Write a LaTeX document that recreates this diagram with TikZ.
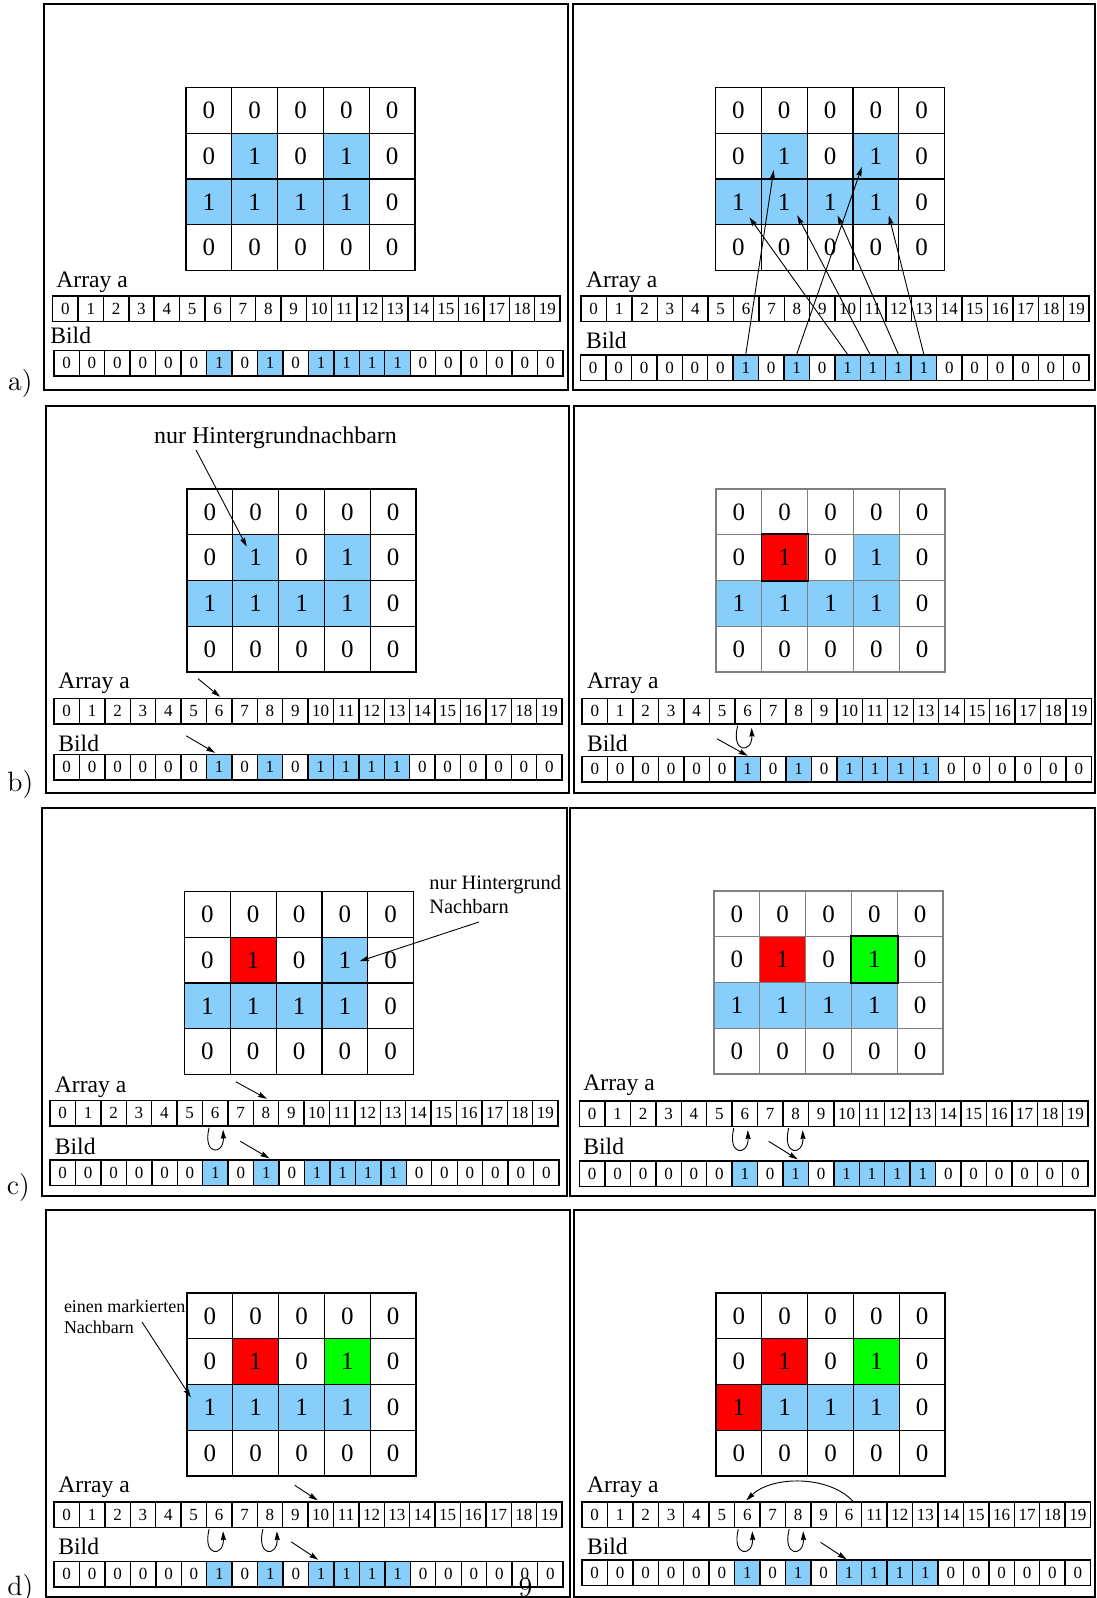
\documentclass[tikz,border=0pt]{standalone}
\usepackage{fontspec}
\newfontfamily\tms{Liberation Serif}
\usetikzlibrary{arrows.meta}
\definecolor{skyb}{RGB}{135,206,250}
\definecolor{grn}{RGB}{0,255,0}
\definecolor{rd}{RGB}{255,0,0}
\def\gvals{{0,0,0,0,0,0,1,0,1,0,1,1,1,1,0,0,0,0,0,0}}
\def\Lplain{white,white,white,white,white,white,skyb,white,skyb,white,skyb,skyb,skyb,skyb,white,white,white,white,white,white}
\def\Lred{white,white,white,white,white,white,rd,white,skyb,white,skyb,skyb,skyb,skyb,white,white,white,white,white,white}
\def\Lrg{white,white,white,white,white,white,rd,white,grn,white,skyb,skyb,skyb,skyb,white,white,white,white,white,white}
\def\Lrgr{white,white,white,white,white,white,rd,white,grn,white,rd,skyb,skyb,skyb,white,white,white,white,white,white}
\def\Lidx{0,1,2,3,4,5,6,7,8,9,10,11,12,13,14,15,16,17,18,19}
\def\Lidxd{0,1,2,3,4,5,6,7,8,9,6,11,12,13,14,15,16,17,18,19}
\newcommand\mkgrid[5]{%
  \foreach \c [count=\i from 0] in #5 {%
    \pgfmathtruncatemacro\rr{int(\i/5)}%
    \pgfmathtruncatemacro\kk{mod(\i,5)}%
    \pgfmathtruncatemacro\vv{\gvals[\i]}%
    \node[gcell,draw=#4,fill=\c] (#1-\rr-\kk) at ({#2+(\kk+0.5)*45.8},{#3+(\rr+0.5)*45.75}) {\vv};
  }}
\newcommand\idxrow[5]{%
  \foreach \v [count=\i from 0] in #5 {%
    \node[acell,minimum width={#4*0.5pt}] (#1\i) at ({#2+(\i+0.5)*#4},{#3+12.75}) {\v};
  }}
\newcommand\bildrow[4]{%
  \foreach \v [count=\i from 0] in {0,0,0,0,0,0,1,0,1,0,1,1,1,1,0,0,0,0,0,0} {%
    \ifnum\v=1 \def\ff{skyb}\else\def\ff{white}\fi
    \node[acell,fill=\ff,minimum width={#4*0.5pt}] (#1\i) at ({#2+(\i+0.5)*#4},{#3+12.75}) {\v};
  }}
\newcommand\lp[2]{%
  \draw[arr] ([shift={(#2-8,1)}]#1.south) .. controls ([shift={(#2-15,29)}]#1.south) and ([shift={(#2+7,29)}]#1.south) .. ([shift={(#2+6,3)}]#1.south);}
\begin{document}
\begin{tikzpicture}[x=0.5pt,y=-0.5pt,
  gcell/.style={rectangle,inner sep=0pt,minimum width=22.9pt,minimum height=22.875pt,line width=0.6pt,font=\tms\fontsize{12.5}{14}\selectfont},
  acell/.style={rectangle,draw=black,inner sep=0pt,minimum height=12.75pt,line width=0.7pt,font=\tms\fontsize{8.5}{10}\selectfont},
  lbl/.style={anchor=west,inner sep=0pt,font=\tms\fontsize{11.8}{14}\selectfont},
  note/.style={inner sep=0pt,font=\tms\fontsize{12}{14}\selectfont},
  smallnote/.style={inner sep=0pt,anchor=base west,font=\tms\fontsize{10.2}{12}\selectfont},
  tinynote/.style={inner sep=0pt,anchor=base west,font=\tms\fontsize{9}{11}\selectfont},
  panel/.style={draw=black,line width=1pt},
  tag/.style={inner sep=0pt,font=\fontsize{14}{16}\selectfont},
  arr/.style={-{Stealth[length=4.5pt,width=2.6pt,inset=0.5pt]},line width=0.45pt},
  blk/.style={draw=black,line width=0.7pt}
]
\useasboundingbox (0,0) rectangle (1096,1598);
\fill[white] (0,0) rectangle (1096,1598);
% panels
\draw[panel] (43.6,4) rectangle (568,390);
\draw[panel] (572.5,4) rectangle (1094.5,390);
\draw[panel] (45.5,406) rectangle (568.5,793);
\draw[panel] (573.5,406) rectangle (1094.5,793);
\draw[panel] (41.8,808) rectangle (566.5,1196);
\draw[panel] (570,808) rectangle (1094.5,1196);
\draw[panel] (45.5,1210) rectangle (569.5,1597);
\draw[panel] (573.5,1210) rectangle (1094.5,1597);
% grids
\mkgrid{aL}{186}{87.5}{black}{\Lplain}
\mkgrid{aR}{715.5}{87.5}{black}{\Lplain}
\mkgrid{bL}{187}{489}{black}{\Lplain}
\mkgrid{bR}{716}{489}{gray}{\Lred}
\mkgrid{cL}{184.5}{891.5}{black}{\Lred}
\mkgrid{cR}{714}{891}{gray}{\Lrg}
\mkgrid{dL}{187}{1293}{black}{\Lrg}
\mkgrid{dR}{716}{1293}{black}{\Lrgr}
\draw[blk] (bR-1-1.south west) rectangle (bR-1-1.north east);
\draw[blk] (cR-1-3.south west) rectangle (cR-1-3.north east);
% arrays
\idxrow{aLA}{52.7}{296}{25.37}{\Lidx}
\bildrow{aLB}{53.8}{350.5}{25.46}
\idxrow{aRA}{581}{296}{25.4}{\Lidx}
\bildrow{aRB}{580.5}{355}{25.43}
\idxrow{bLA}{54}{698.5}{25.4}{\Lidx}
\bildrow{bLB}{54}{754.5}{25.4}
\idxrow{bRA}{582}{698.5}{25.48}{\Lidx}
\bildrow{bRB}{582}{756.5}{25.48}
\idxrow{cLA}{50}{1100.5}{25.4}{\Lidx}
\bildrow{cLB}{50}{1160}{25.45}
\idxrow{cRA}{579.5}{1101}{25.43}{\Lidx}
\bildrow{cRB}{579.5}{1161}{25.43}
\idxrow{dLA}{54}{1502}{25.4}{\Lidx}
\bildrow{dLB}{54}{1561.5}{25.45}
\idxrow{dRA}{582}{1502}{25.43}{\Lidxd}
\bildrow{dRB}{582}{1560}{25.43}
% labels
\node[lbl] (aLa) at (56,282) {Array a};
\node[lbl] (aLb) at (50,335) {Bild};
\node[lbl] (aRa) at (585.6,282) {Array a};
\node[lbl] (aRb) at (585.6,340.7) {Bild};
\node[lbl] (bLa) at (58,683.7) {Array a};
\node[lbl] (bLb) at (58,743) {Bild};
\node[lbl] (bRa) at (586.7,683.7) {Array a};
\node[lbl] (bRb) at (586.7,743) {Bild};
\node[lbl] (cLa) at (54.5,1087) {Array a};
\node[lbl] (cLb) at (54.5,1146.7) {Bild};
\node[lbl] (cRa) at (583,1085) {Array a};
\node[lbl] (cRb) at (583,1146.7) {Bild};
\node[lbl] (dLa) at (58,1487) {Array a};
\node[lbl] (dLb) at (58,1546.7) {Bild};
\node[lbl] (dRa) at (586.7,1487) {Array a};
\node[lbl] (dRb) at (586.7,1546.7) {Bild};
% notes
\node[note] (tb) at (275.5,438) {nur Hintergrundnachbarn};
\node[smallnote] (tc1) at (429,889) {nur Hintergrund};
\node[smallnote] (tc2) at (429,913) {Nachbarn};
\node[tinynote] (td1) at (63.6,1312) {einen markierten};
\node[tinynote] (td2) at (63.6,1333) {Nachbarn};
% tags
\node[tag] (ta) at (20.4,384) {a)};
\node[tag] (tbb) at (20.4,785) {b)};
\node[tag] (tcc) at (18.4,1188) {c)};
\node[tag] (tdd) at (20.4,1588) {d)};
\node[tag] (pg) at (525.5,1587) {9};
% arrows a right
\draw[arr] (aRB6.north) -- ([shift={(-10.5,14)}]aR-1-1.center);
\draw[arr] (aRB8.north) -- ([shift={(-14,11)}]aR-1-3.center);
\draw[arr] (aRB10.north) -- ([shift={(11,15.5)}]aR-2-0.center);
\draw[arr] ([shift={(-3,0)}]aRB11.north) -- ([shift={(13,13.5)}]aR-2-1.center);
\draw[arr] (aRB12.north) -- ([shift={(7.5,13.5)}]aR-2-2.center);
\draw[arr] (aRB13.north) -- ([shift={(13,13.5)}]aR-2-3.center);
% b
\draw[arr] ([shift={(-79.5,12)}]tb.center) -- ([shift={(-9,-11)}]bL-1-1.center);
\draw[arr] ([shift={(-21,-19)}]bLA6.north) -- ([shift={(1,-1)}]bLA6.north);
\draw[arr] ([shift={(-33,-18)}]bLB6.north) -- ([shift={(-4,-1)}]bLB6.north);
\lp{bRA6}{-2}
\draw[arr] ([shift={(-30.6,-17)}]bRB6.north) -- (bRB6.north);
% c
\draw[arr] ([shift={(50,33)}]tc1.base west) -- ([shift={(15,1)}]cL-1-3.center);
\draw[arr] ([shift={(-30,-18)}]cLA8.north) -- ([shift={(1,-1)}]cLA8.north);
\lp{cLA6}{2}
\draw[arr] ([shift={(-26,-18)}]cLB8.north) -- ([shift={(3,-1)}]cLB8.north);
\lp{cRA6}{-3}
\lp{cRA8}{1}
\draw[arr] ([shift={(-27,-19)}]cRB8.north) -- ([shift={(2,-1)}]cRB8.north);
% d
\draw[arr] ([shift={(78.4,10)}]td1.base west) -- ([shift={(-19,-10)}]dL-2-0.center);
\draw[arr] ([shift={(-26,-16)}]dLA10.north) -- ([shift={(-3,-1)}]dLA10.north);
\lp{dLA6}{-2}
\lp{dLA8}{1}
\draw[arr] ([shift={(-30,-19)}]dLB10.north) -- ([shift={(-3,-1)}]dLB10.north);
\draw[arr] ([shift={(4,0)}]dRA10.north) .. controls ([shift={(-20,-26)}]dRA10.north) and ([shift={(25,-26)}]dRA6.north) .. ([shift={(-1,-1)}]dRA6.north);
\lp{dRA6}{-1}
\lp{dRA8}{-1}
\draw[arr] ([shift={(-28.5,-17)}]dRB10.north) -- ([shift={(-2.5,0)}]dRB10.north);
\end{tikzpicture}
\end{document}
